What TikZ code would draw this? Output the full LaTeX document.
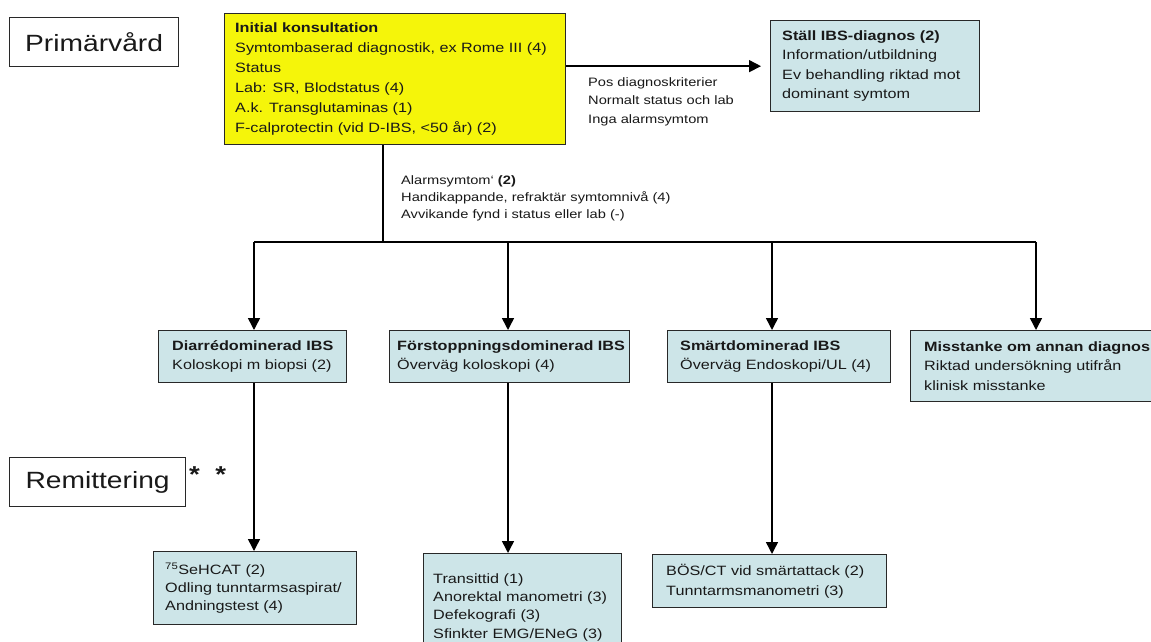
\documentclass[tikz,border=0pt]{standalone}
\usepackage{fontspec}
\setmainfont{Liberation Sans}[FakeStretch=1.2]
\usetikzlibrary{arrows.meta}
\definecolor{ylw}{RGB}{245,245,10}
\definecolor{lblue}{RGB}{205,229,232}
\definecolor{edge}{RGB}{40,40,40}
\definecolor{ink}{RGB}{25,25,25}
\begin{document}
\begin{tikzpicture}[x=1pt,y=-1pt,
  every node/.style={text=ink},
  bx/.style={draw=edge, line width=1.3pt, fill=lblue, anchor=north west, inner sep=0pt},
  ybx/.style={bx, fill=ylw},
  lbl/.style={draw=edge, line width=1.2pt, fill=white, anchor=north west, inner sep=0pt, font=\fontsize{23.5}{26}\selectfont},
  txt/.style={anchor=west, align=left, inner sep=0pt, font=\fontsize{13.5}{19.3}\selectfont},
  note/.style={anchor=north west, align=left, inner sep=0pt, font=\fontsize{12.2}{18.5}\selectfont},
  arr/.style={-{Triangle[length=12pt,width=12pt]}, line width=1.5pt, draw=black},
  ln/.style={line width=1.5pt, draw=black}]
\useasboundingbox (0,0) rectangle (1151,642);
\clip (0,0) rectangle (1151,642);
\fill[white] (0,0) rectangle (1151,642);

% section labels
\node[lbl, minimum width=169, minimum height=49] (prim) at (9,17) {Primärvård};
\node[lbl, minimum width=176, minimum height=49] (remit) at (9,457) {Remittering};
\node[anchor=base west, inner sep=0pt, font=\fontsize{23}{26}\selectfont\bfseries] (stars) at (189,482) {* \ *};

% boxes
\node[ybx, minimum width=341, minimum height=131] (init) at (224,13) {};
\node[txt, font=\fontsize{13.5}{20}\selectfont] (initT) at ([xshift=11pt]init.west) {\textbf{Initial konsultation}\\Symtombaserad diagnostik, ex Rome III (4)\\Status\\Lab: SR, Blodstatus (4)\\A.k. Transglutaminas (1)\\F-calprotectin (vid D-IBS, <50 år) (2)};

\node[bx, minimum width=209, minimum height=91] (stall) at (770,20) {};
\node[txt] (stallT) at ([xshift=12pt]stall.west) {\textbf{Ställ IBS-diagnos (2)}\\Information/utbildning\\Ev behandling riktad mot\\dominant symtom};

\node[bx, minimum width=188, minimum height=52] (diarr) at (158,330) {};
\node[txt] (diarrT) at ([xshift=14pt]diarr.west) {\textbf{Diarrédominerad IBS}\\Koloskopi m biopsi (2)};

\node[bx, minimum width=240, minimum height=52] (forst) at (389,330) {};
\node[txt] (forstT) at ([xshift=8pt]forst.west) {\textbf{Förstoppningsdominerad IBS}\\Överväg koloskopi (4)};

\node[bx, minimum width=223, minimum height=52] (smart) at (667,330) {};
\node[txt] (smartT) at ([xshift=13pt]smart.west) {\textbf{Smärtdominerad IBS}\\Överväg Endoskopi/UL (4)};

\node[bx, minimum width=260, minimum height=71] (miss) at (910,330) {};
\node[txt] (missT) at ([xshift=14pt]miss.west) {\textbf{Misstanke om annan diagnos}\\Riktad undersökning utifrån\\klinisk misstanke};

\node[bx, minimum width=203, minimum height=73] (sehcat) at (153,551) {};
\node[txt, font=\fontsize{13.5}{17.8}\selectfont] (sehcatT) at ([xshift=12pt]sehcat.west) {\textsuperscript{75}SeHCAT (2)\\Odling tunntarmsaspirat/\\Andningstest (4)};

\node[bx, minimum width=198, minimum height=107] (transit) at (423,553) {};
\node[txt, font=\fontsize{13.5}{18.3}\selectfont] (transitT) at ([xshift=10pt]transit.west) {Transittid (1)\\Anorektal manometri (3)\\Defekografi (3)\\Sfinkter EMG/ENeG (3)};

\node[bx, minimum width=234, minimum height=53] (bos) at (652,554) {};
\node[txt] (bosT) at ([xshift=14pt]bos.west) {BÖS/CT vid smärtattack (2)\\Tunntarmsmanometri (3)};

% connector labels
\node[note] (pos) at (588,77) {Pos diagnoskriterier\\Normalt status och lab\\Inga alarmsymtom};
\node[note, font=\fontsize{12.2}{17}\selectfont] (alarm) at (401,175) {Alarmsymtom` \textbf{(2)}\\Handikappande, refraktär symtomnivå (4)\\Avvikande fynd i status eller lab (-)};

% connectors
\coordinate (bus) at (383,242);
\coordinate (d1) at (254,242);
\coordinate (d2) at (508,242);
\coordinate (d3) at (772,242);
\coordinate (d4) at (1036,242);
\draw[arr, shorten >=9pt] (init.east |- stall.west) -- (stall.west);
\draw[ln] (init.south -| bus) -- (bus);
\draw[ln] (d1) -- (d4);
\draw[arr] (d1) -- (d1 |- diarr.north);
\draw[arr] (d2) -- (d2 |- forst.north);
\draw[arr] (d3) -- (d3 |- smart.north);
\draw[arr] (d4) -- (d4 |- miss.north);
\draw[arr] (diarr.south -| d1) -- (sehcat.north -| d1);
\draw[arr] (forst.south -| d2) -- (transit.north -| d2);
\draw[arr] (smart.south -| d3) -- (bos.north -| d3);
\end{tikzpicture}
\end{document}
